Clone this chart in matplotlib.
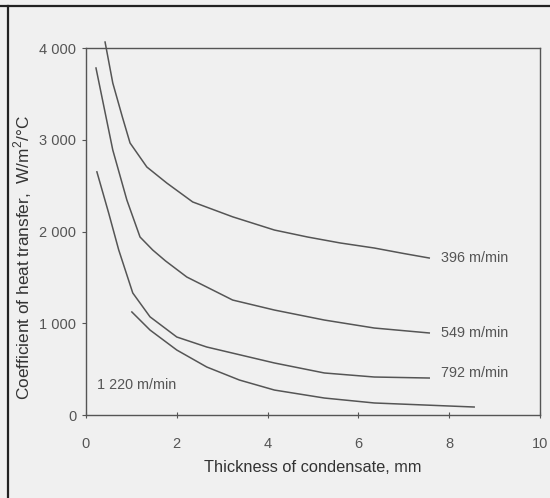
import matplotlib
matplotlib.use("Agg")
import matplotlib.pyplot as plt
from matplotlib.lines import Line2D
from matplotlib.ticker import FuncFormatter

# ---- data ----
x_396 = [0.42, 0.59, 0.80, 0.97, 1.34, 1.78, 2.35, 3.23, 4.15, 4.88, 5.6, 6.35, 7.0, 7.56]
y_396 = [4065, 3618, 3250, 2965, 2703, 2528, 2322, 2160, 2016, 1940, 1875, 1820, 1760, 1711]

x_549 = [0.22, 0.59, 0.90, 1.19, 1.47, 1.75, 2.22, 3.23, 4.15, 5.25, 6.35, 7.56]
y_549 = [3782, 2888, 2343, 1940, 1798, 1680, 1504, 1253, 1144, 1035, 948, 894]

x_792 = [0.24, 0.50, 0.72, 1.03, 1.41, 2.0, 2.66, 4.15, 5.25, 6.35, 7.56]
y_792 = [2650, 2200, 1800, 1330, 1070, 850, 741, 567, 458, 414, 403]

x_1220 = [1.01, 1.41, 2.0, 2.66, 3.38, 4.15, 5.25, 6.35, 7.45, 8.55]
y_1220 = [1123, 926, 708, 523, 381, 272, 185, 131, 109, 87]

series_labels = ["396 m/min", "549 m/min", "792 m/min", "1 220 m/min"]
label_x = [7.82, 7.82, 7.82, 0.24]
label_y = [1711, 894, 458, 327]

x_ticks = [0, 2, 4, 6, 8, 10]
y_ticks = [0, 1000, 2000, 3000, 4000]

x_label = "Thickness of condensate, mm"
y_label = "Coefficient of heat transfer,  W/m$^{\\mathregular{2}}$/°C"

# ---- style ----
BG = "#f0f0f0"
INK = "#555555"
plt.rcParams["font.family"] = ["Liberation Sans", "DejaVu Sans"]
plt.rcParams["mathtext.fontset"] = "custom"
plt.rcParams["mathtext.rm"] = "Liberation Sans"

fig = plt.figure(figsize=(5.5, 4.98), dpi=100, facecolor=BG)
ax = fig.add_axes([86 / 550, 1 - 415 / 498, (540 - 86) / 550, (415 - 48) / 498])
ax.set_facecolor(BG)

for xs, ys in [(x_396, y_396), (x_549, y_549), (x_792, y_792), (x_1220, y_1220)]:
    ax.plot(xs, ys, color=INK, lw=1.1, clip_on=False)

for t, lx, ly in zip(series_labels, label_x, label_y):
    ax.text(lx, ly, t, color=INK, fontsize=10.4, va="center", ha="left")

ax.set_xlim(0, 10)
ax.set_ylim(0, 4000)
ax.set_xticks(x_ticks)
ax.set_yticks(y_ticks)
ax.xaxis.set_major_formatter(FuncFormatter(lambda v, p: f"{int(v)}"))
ax.yaxis.set_major_formatter(FuncFormatter(lambda v, p: f"{int(v):,}".replace(",", " ")))
ax.tick_params(axis="x", direction="inout", length=5, width=0.8, color=INK,
               labelcolor=INK, labelsize=10.5, pad=13)
ax.tick_params(axis="y", direction="out", length=3, width=0.8, color=INK,
               labelcolor=INK, labelsize=10.5, pad=4)
for s in ax.spines.values():
    s.set_color(INK)
    s.set_linewidth(1.0)

ax.set_xlabel(x_label, color="#333333", fontsize=11.8, labelpad=7)
ax.set_ylabel(y_label, color="#333333", fontsize=12.4)
ax.yaxis.set_label_coords(-(86 - 34) / 454, (415 - 258) / 367)

# outer frame of the scanned page
fig.add_artist(Line2D([0, 1], [1 - 6 / 498, 1 - 6 / 498], color="#222222", lw=1.6,
                      transform=fig.transFigure))
fig.add_artist(Line2D([8 / 550, 8 / 550], [0, 1 - 6 / 498], color="#222222", lw=1.6,
                      transform=fig.transFigure))

fig.savefig("out.png", dpi=100, facecolor=BG)
